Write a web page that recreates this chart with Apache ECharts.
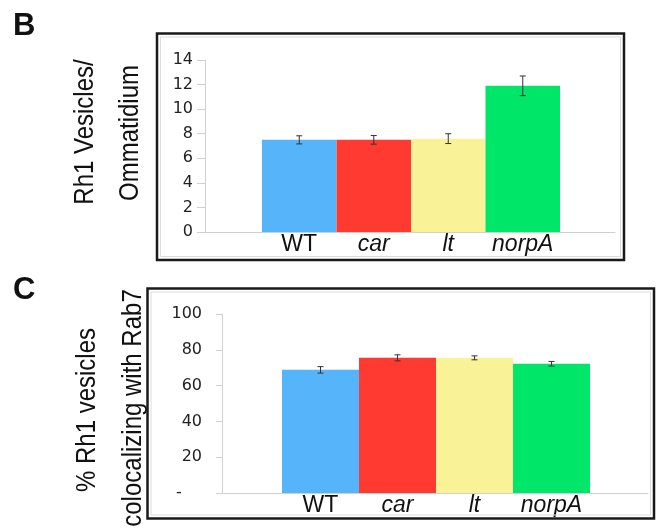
<!DOCTYPE html>
<html>
<head>
<meta charset="utf-8">
<script src="https://cdn.jsdelivr.net/npm/echarts@6/dist/echarts.min.js"></script>
<style>
html,body{margin:0;padding:0;background:#fff;}
#chart{width:658px;height:532px;}
</style>
</head>
<body>
<div id="chart"></div>
<script>
// ---- data ----
var categories = ['WT', 'car', 'lt', 'norpA'];
var vesiclesPerOmmatidium = [7.5, 7.5, 7.6, 11.9];
var vesiclesErr = [0.33, 0.35, 0.4, 0.8];
var pctColocalizing = [68.8, 75.5, 75.5, 72.2];
var pctErr = [1.8, 1.7, 1.1, 1.3];
var ticksB = [0, 14, 2];   // min, max, interval
var ticksC = [0, 100, 20];
var titleB = ['Rh1 Vesicles/', 'Ommatidium'];
var titleC = ['% Rh1 vesicles', 'colocalizing with Rab7'];
var panelLabels = ['B', 'C'];

// ---- styles ----
var FONT = '"Liberation Sans", Arial, Helvetica, sans-serif';
var TICKFONT = '"DejaVu Sans", Verdana, sans-serif';
var barColors = ['#55B4FA', '#FF3A30', '#FAF296', '#00E668'];
var axisGrey = '#d0d0d0';

var chart = echarts.init(document.getElementById('chart'), null, {renderer: 'canvas'});

function catLabel() {
  return {
    margin: 1,
    fontFamily: FONT,
    formatter: function (v, i) { return i === 0 ? '{n|' + v + '}' : '{i|' + v + '}'; },
    rich: {
      n: {fontSize: 23, fontFamily: FONT, color: '#111'},
      i: {fontSize: 23, fontFamily: FONT, color: '#111', fontStyle: 'italic'}
    }
  };
}

function errorSeries(xi, yi, vals, errs) {
  return {
    type: 'custom', xAxisIndex: xi, yAxisIndex: yi, z: 5,
    data: vals.map(function (v, i) { return [i, v, errs[i]]; }),
    renderItem: function (params, api) {
      var i = api.value(0), v = api.value(1), e = api.value(2);
      var top = api.coord([i, v + e]);
      var bot = api.coord([i, v - e]);
      var w = 3;
      var st = {stroke: '#333', lineWidth: 1};
      return {type: 'group', children: [
        {type: 'line', shape: {x1: top[0], y1: top[1], x2: bot[0], y2: bot[1]}, style: st},
        {type: 'line', shape: {x1: top[0] - w, y1: top[1], x2: top[0] + w, y2: top[1]}, style: st},
        {type: 'line', shape: {x1: bot[0] - w, y1: bot[1], x2: bot[0] + w, y2: bot[1]}, style: st}
      ]};
    }
  };
}

function titleText(x, y, txt) {
  return {type: 'text', x: x, y: y, rotation: Math.PI / 2, scaleY: 1.15,
    style: {text: txt, font: '24px ' + FONT, fill: '#111', align: 'center', verticalAlign: 'middle'}};
}

var option = {
  animation: false,
  backgroundColor: '#fff',
  grid: [
    {left: 205, top: 60, width: 410, height: 172},
    {left: 262, top: 60, width: 298, height: 172},
    {left: 222, top: 314, width: 426, height: 179},
    {left: 282, top: 314, width: 308, height: 179}
  ],
  xAxis: [
    {gridIndex: 0, type: 'category', data: [''], axisLine: {lineStyle: {color: axisGrey}}, axisTick: {show: false}, axisLabel: {show: false}},
    {gridIndex: 1, type: 'category', data: categories, axisLine: {show: false}, axisTick: {show: false}, axisLabel: catLabel()},
    {gridIndex: 2, type: 'category', data: [''], axisLine: {lineStyle: {color: axisGrey}}, axisTick: {show: false}, axisLabel: {show: false}},
    {gridIndex: 3, type: 'category', data: categories, axisLine: {show: false}, axisTick: {show: false}, axisLabel: catLabel()}
  ],
  yAxis: [
    {gridIndex: 0, type: 'value', min: ticksB[0], max: ticksB[1], interval: ticksB[2],
      axisLine: {show: true, lineStyle: {color: axisGrey}},
      axisTick: {show: true, length: 8, lineStyle: {color: axisGrey}},
      splitLine: {show: false},
      axisLabel: {margin: 12, fontSize: 16, fontFamily: TICKFONT, color: '#222'}},
    {gridIndex: 1, type: 'value', min: ticksB[0], max: ticksB[1], show: false, splitLine: {show: false}},
    {gridIndex: 2, type: 'value', min: ticksC[0], max: ticksC[1], interval: ticksC[2],
      axisLine: {show: true, lineStyle: {color: axisGrey}},
      axisTick: {show: true, length: 6, lineStyle: {color: axisGrey}},
      splitLine: {show: false},
      axisLabel: {margin: 20, fontSize: 16, fontFamily: TICKFONT, color: '#222',
        formatter: function (v) { return v === 0 ? '-    ' : String(v); }}},
    {gridIndex: 3, type: 'value', min: ticksC[0], max: ticksC[1], show: false, splitLine: {show: false}}
  ],
  series: [
    {type: 'bar', xAxisIndex: 1, yAxisIndex: 1, barCategoryGap: '0%',
      data: vesiclesPerOmmatidium.map(function (v, i) { return {value: v, itemStyle: {color: barColors[i]}}; })},
    errorSeries(1, 1, vesiclesPerOmmatidium, vesiclesErr),
    {type: 'bar', xAxisIndex: 3, yAxisIndex: 3, barCategoryGap: '0%',
      data: pctColocalizing.map(function (v, i) { return {value: v, itemStyle: {color: barColors[i]}}; })},
    errorSeries(3, 3, pctColocalizing, pctErr)
  ],
  graphic: [
    {type: 'rect', shape: {x: 157, y: 33.5, width: 467, height: 226.5}, style: {fill: 'none', stroke: '#1a1a1a', lineWidth: 2.5}, z: 1},
    {type: 'rect', shape: {x: 160.5, y: 37, width: 460, height: 219.5}, style: {fill: 'none', stroke: '#dcdcdc', lineWidth: 1}, z: 1},
    {type: 'rect', shape: {x: 147.5, y: 288.5, width: 506.5, height: 230}, style: {fill: 'none', stroke: '#1a1a1a', lineWidth: 2.5}, z: 1},
    {type: 'rect', shape: {x: 151, y: 292, width: 499.5, height: 223}, style: {fill: 'none', stroke: '#dcdcdc', lineWidth: 1}, z: 1},
    {type: 'text', x: 13, y: 26, style: {text: panelLabels[0], font: 'bold 31px ' + FONT, fill: '#111', align: 'left', verticalAlign: 'middle'}},
    {type: 'text', x: 13, y: 290, style: {text: panelLabels[1], font: 'bold 31px ' + FONT, fill: '#111', align: 'left', verticalAlign: 'middle'}},
    titleText(85, 132, titleB[0]),
    titleText(130, 133, titleB[1]),
    titleText(87, 410, titleC[0]),
    titleText(133, 408, titleC[1])
  ]
};
chart.setOption(option);
</script>
</body>
</html>
